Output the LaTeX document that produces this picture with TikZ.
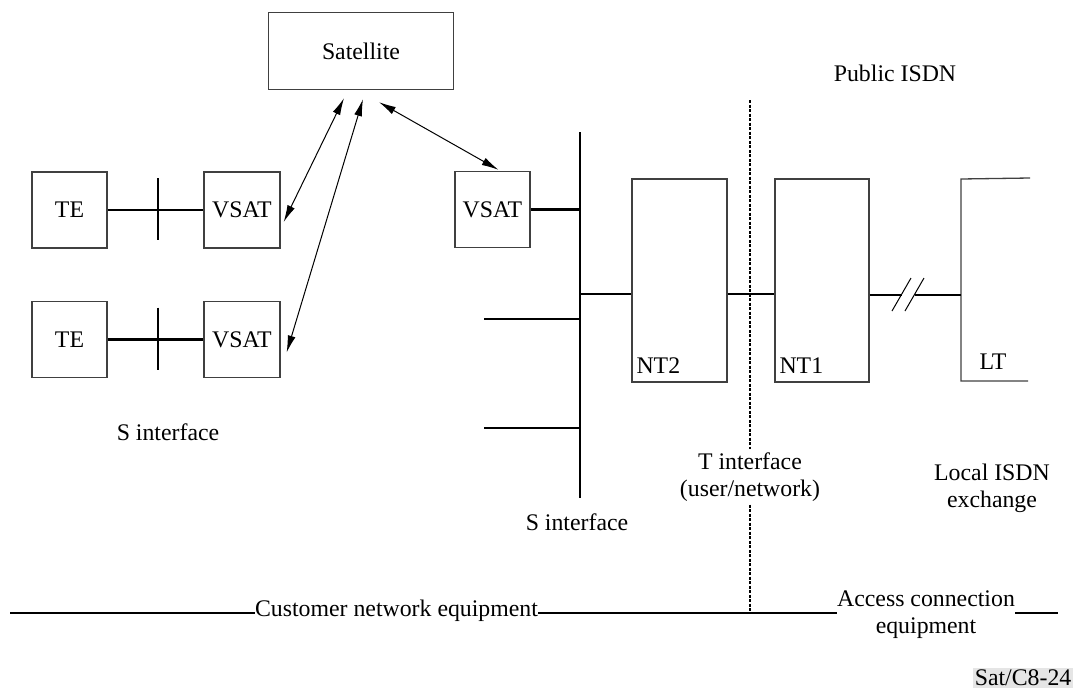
\documentclass[tikz,border=0pt]{standalone}
\usepackage{fontspec}
\setmainfont{Liberation Serif}
\usetikzlibrary{arrows.meta}

\begin{document}
\begin{tikzpicture}[x=1pt, y=-1pt,
    every node/.style={font=\fontsize{23.8}{27}\selectfont, inner sep=0pt},
    box/.style={draw=black!75, line width=1.3pt, minimum width=76pt, minimum height=76pt},
    tall/.style={box, minimum width=94pt, minimum height=203pt},
    link/.style={line width=2.6pt},
    radio/.style={line width=1pt, {Latex[length=17pt,width=8pt]}-{Latex[length=17pt,width=8pt]}},
    dotline/.style={line width=1.8pt, dash pattern=on 3pt off 1.5pt}]
    \useasboundingbox (0,0) rectangle (1074,694);

    % Satellite
    \node[box, minimum width=185pt, minimum height=77pt] (sat) at (361,51) {Satellite};
    \node (pub) at (895,73) {Public ISDN};

    % Remote terminals with their VSATs
    \node[box, minimum width=75pt] (te1) at (69.5,210) {TE};
    \node[box] (vsat1) at (242,210) {VSAT};
    \node[box, minimum width=75pt] (te2) at (69.5,339.5) {TE};
    \node[box] (vsat2) at (242,339.5) {VSAT};
    \draw[link] (te1) -- (vsat1);
    \draw[link] (te2) -- (vsat2);
    % S reference points
    \coordinate (s1) at (158,209);
    \coordinate (s2) at (158,338.5);
    \draw[link] ([yshift=31pt]s1) -- ([yshift=-31pt]s1);
    \draw[link] ([yshift=31pt]s2) -- ([yshift=-31pt]s2);
    \node (sleft) at (168,432) {S interface};

    % Hub VSAT on the S bus
    \node[box, minimum width=75pt] (vsat3) at (492.5,209.5) {VSAT};
    \coordinate (bustop) at (580,132);
    \coordinate (busbot) at (580,498);
    \draw[link] (bustop) -- (busbot);
    \draw[link] (vsat3) -- (vsat3 -| bustop);
    \coordinate (st1) at (484,319);
    \coordinate (st2) at (484,428);
    \draw[link] (st1) -- (st1 -| bustop);
    \draw[link] (st2) -- (st2 -| bustop);
    \node (sright) at (577,522) {S interface};

    % Radio links
    \draw[radio] ([xshift=-17pt,yshift=-8pt]sat.south) -- ([xshift=3pt,yshift=-12pt]vsat1.east);
    \draw[radio] ([xshift=2pt,yshift=-9pt]sat.south) -- ([xshift=6pt,yshift=-13pt]vsat2.east);
    \draw[radio] ([xshift=18pt,yshift=-12pt]sat.south) -- ([xshift=6pt,yshift=1pt]vsat3.north);

    % NT2 and NT1
    \node[tall, minimum width=95pt] (nt2) at (679.5,280.5) {};
    \node[anchor=base west] (nt2lab) at ([xshift=5pt,yshift=9pt]nt2.south west) {NT2};
    \node[tall] (nt1) at (822,280.5) {};
    \node[anchor=base west] (nt1lab) at ([xshift=5pt,yshift=9pt]nt1.south west) {NT1};
    \coordinate (tbus) at (580,294);
    \draw[link] (tbus) -- (nt2.west |- tbus);
    \draw[link] (nt2.east |- tbus) -- (nt1.west |- tbus);

    % LT in the local exchange
    \draw[draw=black!75, line width=1.3pt] (1030,178) -- (961,179) -- (961,381) -- (1028,381);
    \node (ltlab) at (993,362) {LT};
    \coordinate (ltin) at (961,295);
    \coordinate (brka) at (902,295);
    \coordinate (brkb) at (915,295);
    \draw[link] (nt1.east |- ltin) -- (brka);
    \draw[link] (brkb) -- (ltin);
    \draw[line width=1pt] (892,311) -- (911,278);
    \draw[line width=1pt] (905,311) -- (924,278);
    \node[align=center] (lex) at (992,488) {Local ISDN\\exchange};

    % T reference point
    \node[inner sep=3pt, align=center] (tint) at (750,477) {T interface\\(user/network)};
    \coordinate (ttop) at (750,100);
    \coordinate (tbot) at (750,611);
    \draw[dotline] (ttop) -- (tint) -- (tbot);

    % Equipment ranges
    \node (cust) at (396.5,611) {Customer network equipment};
    \node[align=center] (acc) at (926,615) {Access connection\\equipment};
    \coordinate (ll) at (10,613);
    \coordinate (lr) at (1058,613);
    \draw[link] (ll) -- (ll -| cust.west);
    \draw[link] (ll -| cust.east) -- (ll -| acc.west);
    \draw[link] (ll -| acc.east) -- (lr);

    \node[fill=black!10, inner sep=1.5pt, anchor=east] (ref) at (1073,678) {Sat/C8-24};
\end{tikzpicture}
\end{document}
